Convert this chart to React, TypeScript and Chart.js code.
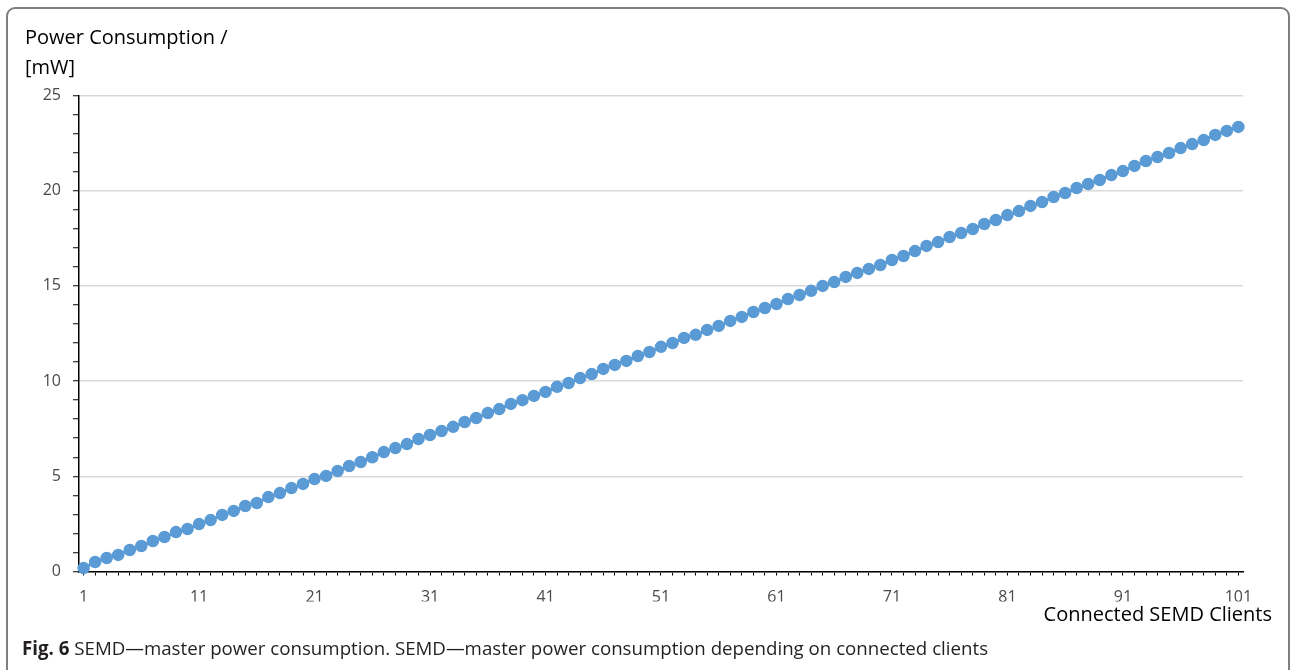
import { useEffect, useRef } from 'react';
import { Chart, registerables } from 'chart.js';

Chart.register(...registerables);

const clients = [
  1, 2, 3, 4, 5, 6, 7, 8, 9, 10, 11, 12, 13, 14, 15, 16, 17, 18, 19, 20,
  21, 22, 23, 24, 25, 26, 27, 28, 29, 30, 31, 32, 33, 34, 35, 36, 37, 38, 39, 40,
  41, 42, 43, 44, 45, 46, 47, 48, 49, 50, 51, 52, 53, 54, 55, 56, 57, 58, 59, 60,
  61, 62, 63, 64, 65, 66, 67, 68, 69, 70, 71, 72, 73, 74, 75, 76, 77, 78, 79, 80,
  81, 82, 83, 84, 85, 86, 87, 88, 89, 90, 91, 92, 93, 94, 95, 96, 97, 98, 99, 100, 101,
];

const powerMW = [
  0.18, 0.5, 0.71, 0.87, 1.13, 1.34, 1.6, 1.81, 2.07, 2.23,
  2.49, 2.7, 2.97, 3.18, 3.44, 3.6, 3.91, 4.12, 4.38, 4.6,
  4.86, 5.02, 5.28, 5.54, 5.75, 6.0, 6.27, 6.48, 6.69, 6.96,
  7.17, 7.38, 7.6, 7.85, 8.06, 8.32, 8.53, 8.8, 9.0, 9.22,
  9.43, 9.7, 9.9, 10.16, 10.37, 10.64, 10.85, 11.06, 11.32, 11.53,
  11.8, 12.0, 12.27, 12.43, 12.69, 12.9, 13.16, 13.37, 13.63, 13.84,
  14.05, 14.31, 14.52, 14.74, 15.0, 15.2, 15.47, 15.68, 15.89, 16.1,
  16.36, 16.57, 16.83, 17.1, 17.3, 17.57, 17.78, 17.99, 18.25, 18.46,
  18.72, 18.93, 19.2, 19.4, 19.67, 19.88, 20.14, 20.35, 20.56, 20.82,
  21.03, 21.3, 21.56, 21.77, 21.98, 22.24, 22.45, 22.66, 22.93, 23.14, 23.35,
];

const xTickLabels = [1, 11, 21, 31, 41, 51, 61, 71, 81, 91, 101];
const yTickLabels = [0, 5, 10, 15, 20, 25];
const yMinorTicks = [
  0, 1, 2, 3, 4, 5, 6, 7, 8, 9, 10, 11, 12, 13, 14, 15, 16, 17, 18, 19, 20, 21, 22, 23, 24, 25,
];

const BLUE = '#5B9BD5';
const FONT = '"Open Sans", sans-serif';

export default function App() {
  const ref = useRef<HTMLCanvasElement>(null);

  useEffect(() => {
    if (!ref.current) return;
    const chart = new Chart(ref.current, {
      type: 'line',
      data: {
        datasets: [
          {
            data: clients.map((c, i) => ({ x: c, y: powerMW[i] })),
            borderColor: BLUE,
            backgroundColor: BLUE,
            borderWidth: 3,
            pointRadius: 5.5,
            pointBorderWidth: 1.5,
            pointBackgroundColor: BLUE,
            pointBorderColor: BLUE,
            tension: 0,
            clip: false as any,
          },
        ],
      },
      options: {
        responsive: false,
        animation: false,
        devicePixelRatio: 1,
        layout: { padding: { left: 0, top: 95.5, right: 47, bottom: 68.5 } },
        plugins: { legend: { display: false }, tooltip: { enabled: false } },
        scales: {
          x: {
            type: 'linear',
            min: 0.6,
            max: 101.4,
            afterBuildTicks: (s: any) => {
              s.ticks = clients.map((v) => ({ value: v }));
            },
            afterFit: (s: any) => {
              s.height = 30;
            },
            grid: {
              drawOnChartArea: false,
              drawTicks: true,
              tickLength: 4,
              tickColor: '#000',
              tickWidth: 1,
            },
            border: { color: '#000', width: 1.5 },
            ticks: {
              autoSkip: false,
              maxRotation: 0,
              padding: 12,
              color: '#4a4a4a',
              font: { family: FONT, size: 16 },
              callback: (v: any) => (xTickLabels.includes(Number(v)) ? String(v) : ''),
            },
          },
          y: {
            min: 0,
            max: 25,
            afterBuildTicks: (s: any) => {
              s.ticks = yMinorTicks.map((v) => ({ value: v }));
            },
            afterFit: (s: any) => {
              s.width = 79;
            },
            grid: {
              color: (ctx: any) =>
                yTickLabels.includes(ctx.tick?.value) ? '#d9d9d9' : 'rgba(0,0,0,0)',
              lineWidth: 1.5,
              tickColor: '#000',
              tickWidth: 1,
              tickLength: 6,
            },
            border: { color: '#000', width: 1.5 },
            ticks: {
              autoSkip: false,
              padding: 12,
              color: '#4a4a4a',
              font: { family: FONT, size: 16 },
              callback: (v: any) => (yTickLabels.includes(Number(v)) ? String(v) : ''),
            },
          },
        },
      },
    });
    return () => chart.destroy();
  }, []);

  return (
    <div
      style={{
        position: 'fixed',
        left: 0,
        top: 0,
        width: 1290,
        height: 670,
        overflow: 'hidden',
        background: '#fff',
        fontFamily: FONT,
      }}
    >
      <div
        style={{
          position: 'absolute',
          left: 6,
          top: 7,
          width: 1284,
          height: 700,
          border: '2px solid #7f7f7f',
          borderRadius: 9,
          boxSizing: 'border-box',
        }}
      />
      <canvas
        ref={ref}
        width={1290}
        height={670}
        style={{ position: 'absolute', left: 0, top: 0, width: 1290, height: 670 }}
      />
      <div
        style={{
          position: 'absolute',
          left: 25,
          top: 22,
          fontSize: 20,
          lineHeight: '30px',
          color: '#000',
          whiteSpace: 'pre',
        }}
      >
        {'Power Consumption /\n[mW]'}
      </div>
      <div
        style={{
          position: 'absolute',
          right: 18,
          top: 600,
          fontSize: 20,
          lineHeight: '27px',
          color: '#000',
          whiteSpace: 'nowrap',
        }}
      >
        Connected SEMD Clients
      </div>
      <div
        style={{
          position: 'absolute',
          left: 22,
          top: 636,
          fontSize: 18.7,
          lineHeight: '24px',
          color: '#231f20',
          whiteSpace: 'nowrap',
        }}
      >
        <span style={{ fontWeight: 700 }}>Fig. 6</span> SEMD—master power consumption. SEMD—master
        power consumption depending on connected clients
      </div>
    </div>
  );
}
